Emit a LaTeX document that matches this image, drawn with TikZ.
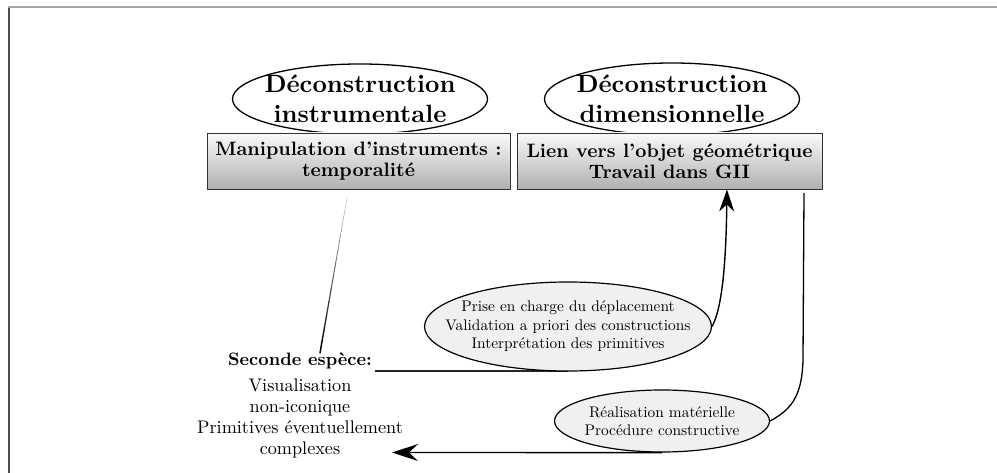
\documentclass[tikz,border=0pt]{standalone}
\usepackage{fontspec}
\setmainfont{lmroman10-regular}[Extension=.otf,BoldFont=lmroman10-bold,ItalicFont=lmroman10-italic]
\usetikzlibrary{shapes.geometric,arrows.meta,backgrounds,calc}
\begin{document}
\begin{tikzpicture}[x=1pt,y=-1pt,
  hell/.style={ellipse,draw,line width=1.3pt,fill=white,minimum width=255pt,minimum height=70pt,inner xsep=-9pt,inner ysep=0pt,align=center,font=\fontsize{25}{30}\selectfont\bfseries},
  hbox/.style={rectangle,draw=black!80,line width=0.9pt,top color=gray!4,bottom color=gray!62,minimum height=56pt,inner sep=0pt,align=center,font=\fontsize{19.4}{21}\selectfont\bfseries},
  sell/.style={ellipse,draw,line width=1.2pt,fill=gray!12,inner ysep=0pt,align=center,font=\fontsize{15.4}{18.5}\selectfont},
  conn/.style={line width=1.4pt,draw=black},
  plain/.style={inner sep=0pt,align=center},
  tipA/.style={-{Stealth[length=22pt,width=15pt,inset=7pt]}},
  tipB/.style={-{Stealth[length=26pt,width=17pt,inset=9pt]}}
]
\useasboundingbox (0,0) rectangle (997,473);
% frame
\draw[gray!60!black,line width=1.6pt] (9,473) -- (9,7);
\draw[gray!70,line width=2pt] (8,7) -- (997,7);

% header ellipses
\node[hell] (eins) at (360,99) {D\'econstruction\\instrumentale};
\node[hell,minimum height=72pt] (edim) at (672,99) {D\'econstruction\\dimensionnelle};
% boxes
\node[hbox,minimum width=303pt] (bins) at (358.5,161) {Manipulation d'instruments :\\temporalit\'e};
\node[hbox,minimum width=305pt] (bdim) at (669.5,161) {Lien vers l'objet g\'eom\'etrique\\Travail dans GII};

% lower ellipses
\node[sell,inner xsep=-22pt,minimum width=287pt,minimum height=89pt] (eprise) at (568,326.5)
  {Prise en charge du d\'eplacement\\Validation a priori des constructions\\Interpr\'etation des primitives};
\node[sell,inner xsep=-3pt,minimum width=215pt,minimum height=62pt] (ereal) at (662,421)
  {R\'ealisation mat\'erielle\\Proc\'edure constructive};

% left texts
\node[plain,anchor=base,font=\fontsize{18}{21.5}\selectfont\bfseries] (sec) at (300,366) {Seconde esp\`ece:};
\node[plain,anchor=north,font=\fontsize{18.2}{21}\selectfont] (vis) at (300,379)
  {Visualisation\\non-iconique\\Primitives \'eventuellement\\complexes};

% connectors
\coordinate (g0) at (347,198);
\coordinate (g1) at (320,353);
\foreach \i in {0,...,11} {
  \pgfmathsetmacro\p{20+80*\i/11}
  \draw[black!\p,line width=0.6pt+0.08pt*\i,line cap=round]
    ($(g0)!{\i/12}!(g1)$) -- ($(g0)!{(\i+1)/12}!(g1)$);
}
\coordinate (s0) at (375,371);
\begin{pgfonlayer}{background}
\draw[conn,line width=1.8pt,black!85] (s0) -- (s0 -| eprise.south);
\draw[conn] (ereal.south) -- (ereal.south -| 600,0);
\end{pgfonlayer}
\coordinate (tb) at (392,452.5);
\draw[conn,tipB] (ereal.south) -- (tb);
\coordinate (ta) at (727,189.5);
\draw[conn,tipA] (eprise.east) .. controls (722,308) and (726,265) .. (ta);
\coordinate (r0) at (804,193);
\coordinate (r1) at (803,360);
\draw[conn,line width=1.3pt] (r0) -- (r1) .. controls (802,398) and (790,410) .. (ereal.east);
\end{tikzpicture}
\end{document}
